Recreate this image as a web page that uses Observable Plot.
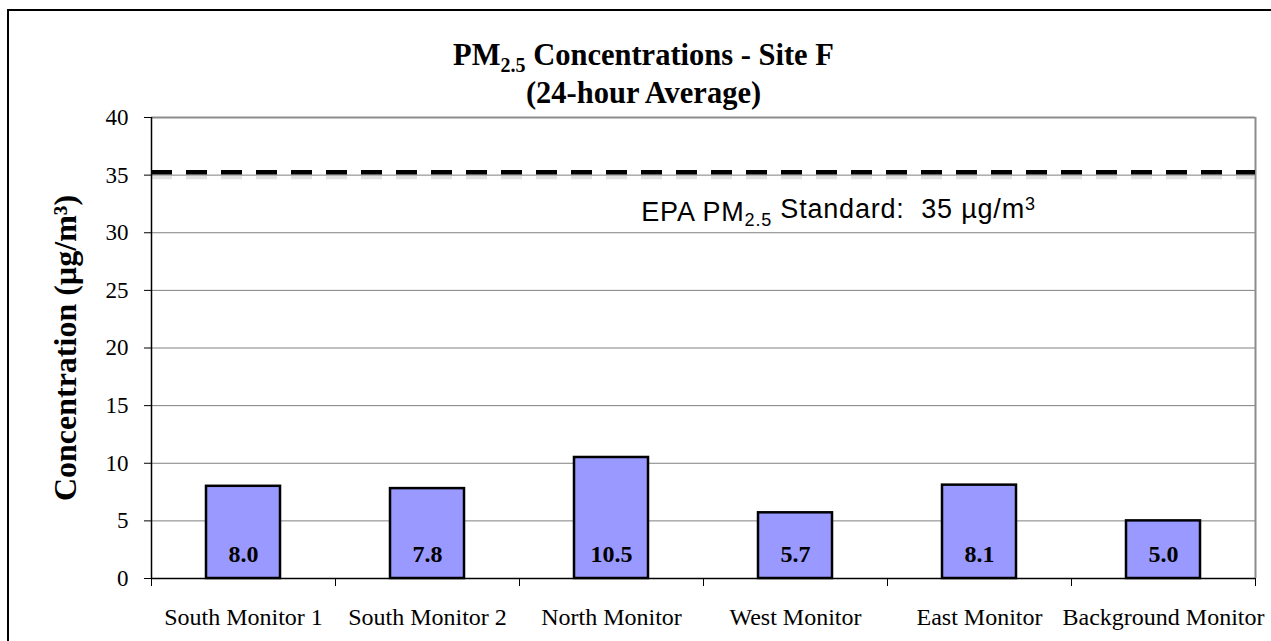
<!DOCTYPE html>
<html>
<head>
<meta charset="utf-8">
<script src="https://cdn.jsdelivr.net/npm/d3@7"></script>
<script src="https://cdn.jsdelivr.net/npm/@observablehq/plot@0.6"></script>
<style>
  html, body { margin: 0; padding: 0; background: #fff; }
  #wrap { position: relative; width: 1271px; height: 641px; overflow: hidden; background: #fff; }
  #border { position: absolute; left: 7px; top: 9px; right: -20px; bottom: -20px; border-left: 2px solid #000; border-top: 2px solid #000; }
  #title { position: absolute; left: 8px; width: 1271px; top: 36px; text-align: center;
           font-family: "Liberation Serif", "Times New Roman", serif; font-weight: bold; font-size: 30.5px; line-height: 38px; color: #000; }
  #title sub { font-size: 20px; vertical-align: -7px; line-height: 0; }
  #chart { position: absolute; left: 0; top: 0; }
</style>
</head>
<body>
<div id="wrap">
  <div id="border"></div>
  <div id="chart"></div>
  <div id="title">PM<sub>2.5</sub> Concentrations - Site F<br>(24-hour Average)</div>
</div>
<script>
const categories = ["South Monitor 1", "South Monitor 2", "North Monitor", "West Monitor", "East Monitor", "Background Monitor"];
const values = [8.0, 7.8, 10.5, 5.7, 8.1, 5.0];
const standardValue = [35];
const yTicks = [0, 5, 10, 15, 20, 25, 30, 35, 40];
const yLabel = ["Concentration (µg/m³)"];
const annotation = ["EPA PM2.5 Standard:  35 µg/m3"];

const data = categories.map((c, i) => ({monitor: c, value: values[i]}));

const W = 1271, H = 641, mL = 151, mR = 16, mT = 117, mB = 63;
const half = (W - mL - mR) / categories.length / 2;

const chart = Plot.plot({
  width: W, height: H,
  marginTop: mT, marginBottom: mB, marginLeft: mL, marginRight: mR,
  style: {fontFamily: "'Liberation Serif', 'Times New Roman', serif", fontSize: "23px", background: "transparent", color: "#000", overflow: "visible"},
  x: {domain: categories, paddingInner: 0.6, paddingOuter: 0.3, label: null},
  y: {domain: [0, 40], label: null},
  marks: [
    Plot.gridY(yTicks, {stroke: "#808080", strokeOpacity: 1, strokeWidth: 1}),
    Plot.ruleY([40], {stroke: "#8c8c8c", strokeWidth: 2}),
    Plot.ruleX([categories[categories.length - 1]], {dx: half, y1: 0, y2: 40, stroke: "#8c8c8c", strokeWidth: 2}),
    Plot.ruleY(standardValue, {stroke: "#bdbdbd", strokeWidth: 6, strokeDasharray: "21,14", dy: 1, strokeOpacity: 0.45}),
    Plot.ruleY(standardValue, {stroke: "#000", strokeWidth: 4.5, strokeDasharray: "21,14", dy: -3}),
    Plot.barY(data, {x: "monitor", y: "value", fill: "#9999ff", stroke: "#000", strokeWidth: 2.5}),
    Plot.text(data, {x: "monitor", text: d => d.value.toFixed(1), frameAnchor: "bottom", dy: -24, lineAnchor: "middle", fontWeight: "bold", fontSize: 24, fill: "#000"}),
    Plot.ruleY([0], {stroke: "#000", strokeWidth: 1.5}),
    Plot.ruleX([categories[0]], {dx: -half, y1: 0, y2: 40, stroke: "#000", strokeWidth: 1.5}),
    Plot.ruleX(categories, {dx: -half, y1: 0, y2: -0.7, stroke: "#000", strokeWidth: 1}),
    Plot.ruleX([categories[categories.length - 1]], {dx: half, y1: 0, y2: -0.7, stroke: "#000", strokeWidth: 1}),
    Plot.axisY({ticks: yTicks, tickSize: 7, tickPadding: 16, label: null, stroke: "#000"}),
    Plot.axisX({tickSize: 0, tickPadding: 29, label: null, fontSize: 24}),
    Plot.text(yLabel, {frameAnchor: "left", dx: -86, rotate: -90, textAnchor: "middle", fontWeight: "bold", fontSize: 32, fill: "#000"}),
    Plot.text(annotation, {x: () => categories[3], y: () => 31.8, dx: 43, lineAnchor: "middle", textAnchor: "middle",
      fontFamily: "'Liberation Sans', Arial, sans-serif", fontSize: 27, fill: "#000"})
  ]
});

document.getElementById("chart").appendChild(chart);

// rich text for the annotation (subscript / superscript)
chart.querySelectorAll("text").forEach(t => {
  if (t.textContent.startsWith("EPA")) {
    const ns = "http://www.w3.org/2000/svg";
    t.textContent = "";
    t.setAttribute("style", "white-space: pre; letter-spacing: 0.8px");
    const parts = [
      {s: "EPA PM"},
      {s: "2.5", dy: "0.3em", size: "18px"},
      {s: " Standard:  35 µg/m", dy: "-0.3em"},
      {s: "3", dy: "-0.45em", size: "18px"}
    ];
    parts.forEach(p => {
      const ts = document.createElementNS(ns, "tspan");
      ts.textContent = p.s;
      if (p.dy) ts.setAttribute("dy", p.dy);
      if (p.size) ts.setAttribute("font-size", p.size);
      t.appendChild(ts);
    });
  }
});
</script>
</body>
</html>
